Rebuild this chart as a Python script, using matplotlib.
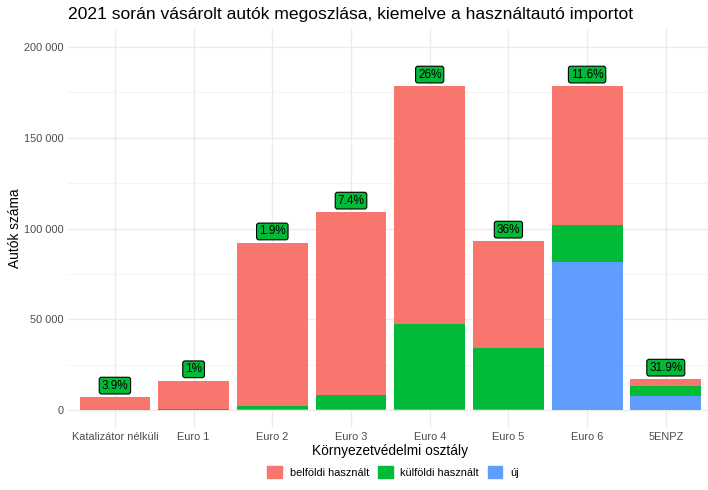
import matplotlib.pyplot as plt
import matplotlib.ticker as mticker
from matplotlib.patches import Patch
import numpy as np

plt.rcParams['font.family'] = ['Liberation Sans', 'DejaVu Sans']

categories = ['Katalizátor nélküli', 'Euro 1', 'Euro 2', 'Euro 3', 'Euro 4', 'Euro 5', 'Euro 6', '5ENPZ']
uj = [450, 150, 550, 400, 700, 700, 81500, 7700]
kulfoldi = [270, 160, 1750, 8070, 46400, 33500, 20700, 5400]
belfoldi = [6280, 15690, 89700, 100530, 131400, 58800, 76300, 3800]
labels = ['3.9%', '1%', '1.9%', '7.4%', '26%', '36%', '11.6%', '31.9%']

c_bel = '#F8766D'
c_kul = '#00BA38'
c_uj = '#619CFF'

fig = plt.figure(figsize=(7.08, 4.9), dpi=100)
ax = fig.add_axes([67.7 / 708, 62 / 490, (713 - 67.7) / 708, (428 - 29) / 490])

x = np.arange(1, len(categories) + 1)
uj = np.array(uj)
kulfoldi = np.array(kulfoldi)
belfoldi = np.array(belfoldi)
total = uj + kulfoldi + belfoldi

ax.bar(x, uj, width=0.9, color=c_uj, zorder=2)
ax.bar(x, kulfoldi, width=0.9, bottom=uj, color=c_kul, zorder=2)
ax.bar(x, belfoldi, width=0.9, bottom=uj + kulfoldi, color=c_bel, zorder=2)

for xi, t, lab in zip(x, total, labels):
    ax.annotate(lab, (xi, t), xytext=(0, 4), textcoords='offset points',
                ha='center', va='bottom', fontsize=8.5, color='black', zorder=3,
                bbox=dict(boxstyle='round,pad=0.2,rounding_size=0.2', fc=c_kul, ec='black', lw=0.8))

ax.set_xlim(0.4, 8.6)
ax.set_ylim(-10000, 210000)
ax.set_xticks(x)
ax.set_xticklabels(categories)
ax.set_yticks([0, 50000, 100000, 150000, 200000])
ax.yaxis.set_major_formatter(mticker.FuncFormatter(lambda v, p: f'{int(v):,}'.replace(',', ' ')))
ax.yaxis.set_minor_locator(mticker.MultipleLocator(25000))

for s in ax.spines.values():
    s.set_visible(False)
ax.tick_params(axis='both', which='both', length=0, labelsize=7.9, labelcolor='#4D4D4D', pad=3)
ax.grid(True, which='major', color='#EBEBEB', lw=1.0, zorder=0)
ax.grid(True, which='minor', axis='y', color='#F2F2F2', lw=0.6, zorder=0)
ax.set_axisbelow(True)

ax.set_xlabel('Környezetvédelmi osztály', fontsize=9.9, labelpad=1)
ax.set_ylabel('Autók száma', fontsize=9.9, labelpad=1)
fig.text(68 / 708, 1 - 15 / 490, '2021 során vásárolt autók megoszlása, kiemelve a használtautó importot',
         fontsize=12.6, va='center', ha='left')

handles = [Patch(color=c_bel, label='belföldi használt'),
           Patch(color=c_kul, label='külföldi használt'),
           Patch(color=c_uj, label='új')]
fig.legend(handles=handles, loc='center', bbox_to_anchor=(393 / 708, 1 - 472 / 490), ncol=3,
           frameon=False, fontsize=7.9, handlelength=1.35, handleheight=1.35, columnspacing=0.8, handletextpad=0.7)

fig.savefig('out.png', dpi=100)
